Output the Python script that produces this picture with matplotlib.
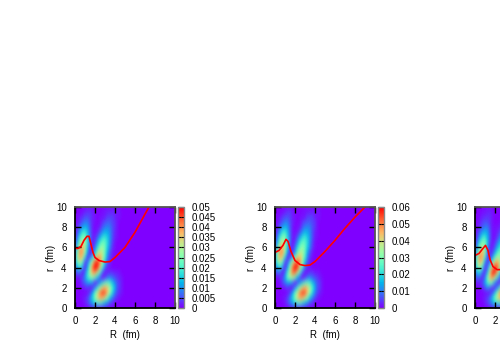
import numpy as np
import matplotlib
matplotlib.use("Agg")
import matplotlib.pyplot as plt

plt.rcParams['font.family'] = ['Liberation Sans', 'DejaVu Sans']
plt.rcParams['font.size'] = 7

# density in units of 1e-3, rows r = 10 .. 0 (step 0.5), columns R = 0 .. 5 (step 0.25)
density_1 = [
    [0, 0, 0, 0, 1, 1, 1, 1, 0, 0, 0, 0, 1, 1, 1, 1, 1, 1, 0, 0, 0],
    [0, 0, 0, 1, 2, 3, 3, 2, 1, 0, 0, 1, 1, 2, 2, 2, 2, 1, 1, 0, 0],
    [0, 1, 2, 3, 5, 5, 4, 2, 1, 0, 1, 1, 2, 4, 4, 4, 2, 1, 1, 0, 0],
    [0, 1, 3, 6, 8, 8, 5, 2, 1, 0, 1, 3, 5, 6, 6, 4, 3, 1, 0, 0, 0],
    [1, 3, 7, 11, 13, 11, 6, 2, 0, 1, 2, 6, 8, 9, 8, 5, 3, 1, 0, 0, 0],
    [1, 5, 12, 18, 19, 14, 7, 2, 1, 2, 6, 10, 13, 12, 9, 5, 2, 1, 0, 0, 0],
    [2, 9, 19, 25, 25, 16, 8, 2, 2, 6, 12, 17, 18, 15, 10, 5, 2, 1, 0, 0, 0],
    [4, 14, 26, 32, 28, 17, 7, 1, 4, 11, 19, 23, 22, 16, 9, 4, 1, 0, 0, 0, 0],
    [6, 20, 36, 38, 30, 15, 3, 2, 8, 17, 26, 28, 23, 15, 8, 3, 1, 0, 0, 0, 0],
    [10, 26, 40, 39, 27, 12, 2, 4, 14, 27, 33, 30, 22, 12, 5, 2, 0, 0, 0, 0, 0],
    [11, 28, 38, 33, 17, 3, 7, 17, 29, 38, 39, 31, 20, 9, 4, 1, 0, 0, 0, 0, 0],
    [10, 22, 28, 20, 4, 7, 19, 33, 45, 49, 41, 27, 14, 5, 2, 0, 0, 0, 0, 0, 0],
    [6, 14, 17, 10, 3, 12, 28, 42, 50, 46, 34, 19, 7, 2, 1, 0, 0, 0, 0, 0, 0],
    [3, 7, 6, 1, 7, 17, 29, 38, 39, 31, 19, 6, 1, 2, 3, 3, 2, 2, 1, 0, 0],
    [1, 1, 2, 5, 10, 17, 23, 25, 21, 14, 5, 1, 4, 8, 9, 7, 5, 3, 2, 1, 0],
    [0, 0, 1, 4, 7, 10, 11, 9, 2, 4, 11, 17, 21, 22, 19, 14, 9, 5, 3, 1, 0],
    [0, 0, 0, 1, 2, 3, 1, 2, 9, 18, 28, 35, 38, 35, 28, 19, 12, 5, 3, 1, 0],
    [0, 0, 0, 0, 0, 1, 4, 12, 22, 32, 41, 46, 44, 36, 26, 16, 8, 4, 2, 1, 0],
    [0, 0, 0, 1, 2, 4, 9, 16, 25, 33, 38, 37, 32, 23, 14, 8, 4, 2, 1, 0, 0],
    [0, 0, 0, 0, 2, 4, 8, 12, 17, 19, 20, 17, 13, 9, 5, 3, 1, 0, 0, 0, 0],
    [0, 0, 0, 0, 0, 0, 1, 2, 3, 3, 3, 2, 2, 1, 0, 0, 0, 0, 0, 0, 0],
]
density_2 = [
    [0, 0, 0, 0, 1, 1, 1, 1, 0, 0, 0, 0, 1, 1, 1, 1, 1, 1, 0, 0, 0],
    [0, 0, 0, 1, 2, 4, 4, 2, 1, 0, 0, 1, 1, 2, 2, 2, 2, 1, 1, 0, 0],
    [0, 1, 2, 4, 6, 6, 5, 2, 1, 0, 1, 1, 2, 5, 5, 5, 2, 1, 1, 0, 0],
    [0, 1, 4, 7, 10, 10, 6, 3, 1, 0, 1, 4, 6, 7, 7, 5, 4, 1, 0, 0, 0],
    [1, 3, 8, 13, 16, 13, 7, 2, 0, 1, 2, 7, 10, 11, 10, 6, 4, 1, 0, 0, 0],
    [1, 6, 14, 22, 23, 17, 8, 2, 1, 2, 7, 12, 16, 14, 11, 6, 2, 1, 0, 0, 0],
    [3, 11, 23, 30, 30, 19, 9, 2, 2, 7, 14, 20, 22, 18, 12, 6, 2, 1, 0, 0, 0],
    [5, 16, 31, 38, 33, 20, 8, 1, 4, 12, 22, 27, 26, 19, 11, 5, 1, 0, 0, 0, 0],
    [8, 25, 43, 46, 36, 18, 4, 2, 9, 19, 29, 32, 27, 18, 10, 4, 1, 0, 0, 0, 0],
    [12, 31, 48, 47, 32, 14, 2, 3, 13, 28, 37, 35, 26, 14, 6, 2, 0, 0, 0, 0, 0],
    [13, 33, 45, 39, 19, 3, 5, 18, 33, 42, 44, 36, 23, 10, 4, 1, 0, 0, 0, 0, 0],
    [12, 26, 33, 23, 5, 6, 21, 37, 50, 56, 48, 32, 16, 6, 2, 0, 0, 0, 0, 0, 0],
    [8, 16, 20, 11, 3, 14, 32, 50, 60, 55, 40, 22, 8, 2, 1, 0, 0, 0, 0, 0, 0],
    [4, 8, 7, 1, 8, 23, 38, 50, 50, 38, 22, 7, 1, 2, 4, 4, 2, 2, 1, 0, 0],
    [1, 1, 3, 6, 14, 26, 33, 34, 27, 15, 5, 1, 5, 10, 11, 8, 6, 4, 2, 1, 0],
    [0, 0, 1, 5, 9, 13, 14, 10, 2, 5, 13, 20, 25, 26, 23, 17, 11, 6, 4, 1, 0],
    [0, 0, 0, 1, 2, 4, 1, 2, 11, 22, 34, 42, 46, 42, 34, 23, 14, 6, 4, 1, 0],
    [0, 0, 0, 0, 0, 1, 5, 14, 26, 38, 49, 55, 53, 43, 31, 19, 10, 5, 2, 1, 0],
    [0, 0, 0, 1, 2, 5, 11, 19, 30, 40, 46, 44, 38, 28, 17, 10, 5, 2, 1, 0, 0],
    [0, 0, 0, 0, 2, 5, 10, 14, 20, 23, 24, 20, 16, 11, 6, 4, 1, 0, 0, 0, 0],
    [0, 0, 0, 0, 0, 0, 1, 2, 4, 4, 4, 2, 2, 1, 0, 0, 0, 0, 0, 0, 0],
]
# third panel runs off the canvas, only R = 0 .. 3 is read
density_3 = [
    [0, 0, 0, 0, 1, 1, 1, 0, 0, 0, 0, 0, 1],
    [0, 0, 0, 1, 1, 2, 2, 1, 0, 0, 0, 0, 1],
    [0, 0, 1, 2, 3, 3, 3, 1, 0, 0, 0, 1, 2],
    [0, 1, 2, 4, 5, 5, 3, 1, 0, 0, 1, 2, 4],
    [0, 1, 3, 6, 8, 8, 4, 1, 1, 1, 2, 4, 6],
    [1, 3, 7, 11, 13, 11, 5, 1, 1, 2, 5, 8, 9],
    [1, 5, 12, 18, 19, 13, 6, 1, 1, 4, 8, 12, 12],
    [2, 9, 19, 25, 24, 15, 4, 1, 3, 8, 13, 16, 14],
    [4, 14, 26, 32, 26, 12, 2, 2, 6, 13, 18, 20, 15],
    [7, 20, 36, 38, 26, 8, 2, 4, 12, 20, 25, 22, 13],
    [10, 26, 41, 38, 20, 4, 3, 12, 23, 29, 28, 19, 9],
    [11, 28, 37, 29, 10, 3, 10, 24, 36, 39, 32, 18, 7],
    [10, 22, 27, 17, 3, 7, 22, 38, 49, 44, 30, 14, 4],
    [6, 14, 15, 6, 3, 15, 34, 48, 46, 35, 18, 6, 1],
    [3, 7, 5, 2, 9, 23, 37, 39, 29, 17, 6, 1, 3],
    [1, 2, 2, 5, 11, 19, 24, 20, 9, 2, 3, 8, 14],
    [0, 0, 1, 2, 6, 9, 7, 2, 3, 10, 20, 28, 34],
    [0, 0, 0, 0, 1, 1, 2, 6, 15, 27, 38, 44, 42],
    [0, 0, 0, 1, 2, 4, 8, 15, 24, 32, 37, 36, 31],
    [0, 0, 0, 0, 2, 4, 7, 11, 16, 18, 19, 16, 12],
    [0, 0, 0, 0, 0, 0, 1, 2, 3, 3, 3, 2, 2],
]

curve_R_1 = [0, 0.3, 0.6, 0.9, 1.2, 1.4, 1.6, 1.8, 2.0, 2.4, 3, 3.5, 4, 5, 6, 7, 7.4]
curve_r_1 = [5.9, 5.9, 6.1, 6.7, 7.1, 7.1, 6.3, 5.5, 5.0, 4.7, 4.55, 4.6, 5.0, 6.0, 7.5, 9.3, 10]
curve_R_2 = [0, 0.4, 0.8, 1.1, 1.3, 1.6, 2, 2.5, 3, 3.5, 4, 5, 6, 7, 8, 9]
curve_r_2 = [5.5, 5.7, 6.2, 6.8, 6.6, 5.6, 4.7, 4.3, 4.2, 4.25, 4.6, 5.6, 6.7, 7.9, 9, 10]
curve_R_3 = [0, 0.4, 0.8, 1.05, 1.3, 1.5, 1.8, 2.2, 2.5, 3]
curve_r_3 = [5.2, 5.4, 5.9, 6.2, 5.7, 4.8, 4.1, 3.8, 3.8, 3.8]

cbar_ticks_1 = [0, 0.005, 0.01, 0.015, 0.02, 0.025, 0.03, 0.035, 0.04, 0.045, 0.05]
cbar_labels_1 = ['0', '0.005', '0.01', '0.015', '0.02', '0.025', '0.03', '0.035', '0.04', '0.045', '0.05']
cbar_ticks_2 = [0, 0.01, 0.02, 0.03, 0.04, 0.05, 0.06]
cbar_labels_2 = ['0', '0.01', '0.02', '0.03', '0.04', '0.05', '0.06']

W, H = 500, 350
fig = plt.figure(figsize=(5, 3.5), dpi=100)


def panel(left, density, curve_R, curve_r, vmax, ticks=None, labels=None):
    ax = fig.add_axes([left / W, 1 - 308 / H, 100 / W, 101 / H])
    vals = np.array(density) * 1e-3
    grid = np.zeros((vals.shape[0], 41))
    grid[:, :vals.shape[1]] = vals
    # cells are centred on the grid values
    im = ax.imshow(grid, cmap='rainbow', vmin=0, vmax=vmax, interpolation='bicubic',
                   extent=[-0.125, 10.125, -0.25, 10.25], aspect='auto')
    ax.plot(curve_R, curve_r, color='#ff0000', lw=1.2)
    ax.set_xlim(0, 10)
    ax.set_ylim(0, 10)
    ax.set_xticks(range(0, 11, 2))
    ax.set_yticks(range(0, 11, 2))
    ax.tick_params(direction='in', top=True, right=True, length=4, width=1, pad=6)
    ax.set_xlabel('R  (fm)', labelpad=3)
    ax.set_ylabel('r  (fm)', labelpad=0)
    for s in ax.spines.values():
        s.set_linewidth(1.3)
    ax.spines['top'].set_color('#555555')
    ax.spines['right'].set_color('#555555')
    if ticks is not None:
        cax = fig.add_axes([(left + 103) / W, 1 - 308 / H, 5.5 / W, 101 / H])
        cb = fig.colorbar(im, cax=cax)
        cb.set_ticks(ticks, labels=labels)
        cb.ax.tick_params(direction='in', length=2, width=0.8, pad=6, left=True, right=True, labelsize=7)
        cb.outline.set_edgecolor('#888888')
        cb.outline.set_linewidth(1)


panel(75, density_1, curve_R_1, curve_r_1, 0.05, cbar_ticks_1, cbar_labels_1)
panel(275, density_2, curve_R_2, curve_r_2, 0.06, cbar_ticks_2, cbar_labels_2)
panel(475, density_3, curve_R_3, curve_r_3, 0.05)

fig.savefig('out.png', dpi=100)
